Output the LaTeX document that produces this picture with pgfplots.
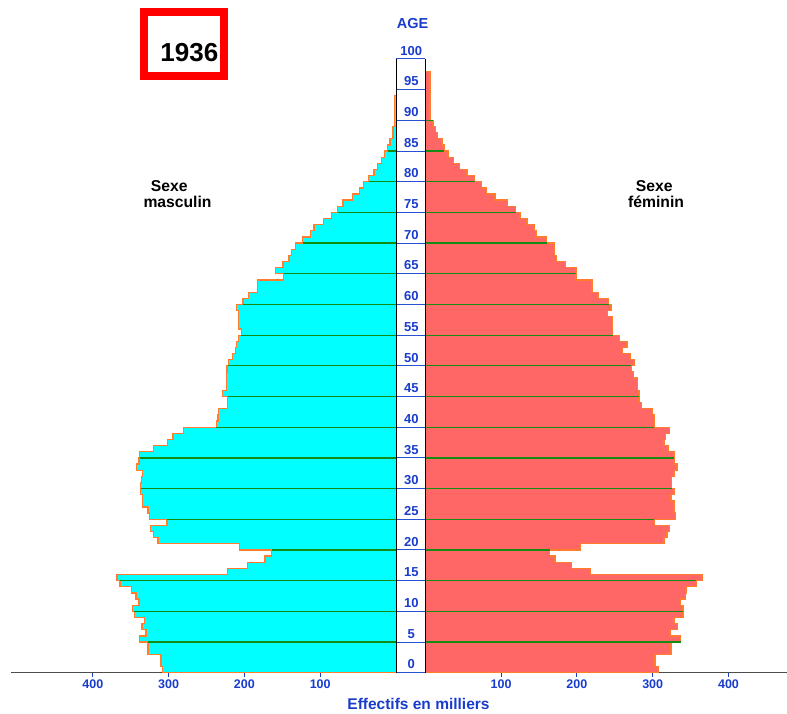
\documentclass[border=0pt]{standalone}
\usepackage{pgfplots}
\pgfplotsset{compat=1.18}
\usepackage{pgfplotstable}
\usepackage{fontspec}
\setmainfont{Liberation Sans}
\definecolor{agecol}{RGB}{25,60,205}
\definecolor{malecol}{RGB}{0,255,255}
\definecolor{femcol}{RGB}{255,102,102}
\definecolor{edgecol}{RGB}{255,125,45}
\definecolor{gridgreen}{RGB}{20,140,20}
\definecolor{boxblue}{RGB}{40,80,210}

% male population (thousands) by age, with closing rows
\pgfplotstableread{
age val
0 0
0 308
1 310
2 310
3 327
4 327
5 338
6 330
7 335
8 332
9 345
10 348
11 339
12 343
13 349
14 364
15 368
16 222
17 196
18 173
19 164
20 206
21 314
22 320
23 324
24 302
25 325
26 327
27 334
28 334
29 337
30 337
31 336
32 334
33 342
34 339
35 338
36 320
37 301
38 294
39 280
40 237
41 235
42 234
43 222
44 222
45 229
46 224
47 224
48 224
49 223
50 221
51 216
52 212
53 210
54 208
55 204
56 208
57 208
58 208
59 210
60 202
61 195
62 183
63 183
64 148
65 159
66 149
67 141
68 138
69 133
70 123
71 113
72 108
73 96
74 85
75 77
76 70
77 57
78 48
79 43
80 36
81 29
82 24
83 19
84 15
85 11
86 8
87 4
88 4
89 2
90 2
91 2
92 2
93 2
94 0
}\maletab

% female population (thousands) by age, with closing rows
\pgfplotstableread{
age val
0 0
0 308
1 303
2 303
3 324
4 324
5 337
6 323
7 333
8 328
9 340
10 340
11 337
12 343
13 344
14 357
15 365
16 218
17 193
18 171
19 164
20 205
21 315
22 319
23 322
24 302
25 330
26 328
27 328
28 324
29 328
30 325
31 325
32 328
33 332
34 328
35 328
36 320
37 315
38 317
39 322
40 302
41 302
42 300
43 285
44 282
45 282
46 280
47 280
48 275
49 272
50 276
51 271
52 260
53 266
54 256
55 247
56 247
57 247
58 240
59 245
60 242
61 228
62 220
63 220
64 199
65 199
66 185
67 173
68 170
69 170
70 160
71 146
72 144
73 134
74 125
75 119
76 108
77 92
78 81
79 74
80 65
81 55
82 45
83 37
84 30
85 25
86 22
87 16
88 13
89 10
90 6
91 6
92 6
93 6
94 6
95 6
96 6
97 6
98 0
}\femtab

\begin{document}
\begin{tikzpicture}[x=1pt,y=1pt]
\useasboundingbox (0,0) rectangle (787,714);
\pgfplotsset{pyr/.style={
  scale only axis, height=613.7pt, ymin=0, ymax=100,
  axis x line*=bottom, axis y line=none,
  axis line style={-},
  x axis line style={black!70, line width=1.1pt},
  xtick={100,200,300,400}, tick align=outside, major tick length=4pt,
  tick style={agecol, line width=0.9pt},
  /pgf/number format/assume math mode=true,
  xticklabel style={font=\bfseries\fontsize{12.5}{12.5}\selectfont, text=agecol},
  clip=false}}

% male side
\begin{axis}[pyr, at={(10.7pt,41.3pt)}, anchor=south west,
  width=385.3pt, xmin=0, xmax=508.3, x dir=reverse]
  \addplot[const plot mark right, fill=malecol, draw=edgecol, line width=1.3pt]
    table[x=val, y=age] {\maletab};
  \addplot[gridgreen, line width=1.3pt, unbounded coords=jump] coordinates {
    (0,5) (327,5) (nan,nan) (0,10) (345,10) (nan,nan) (0,15) (364,15) (nan,nan)
    (0,20) (164,20) (nan,nan) (0,25) (302,25) (nan,nan) (0,30) (337,30) (nan,nan)
    (0,35) (338,35) (nan,nan) (0,40) (237,40) (nan,nan) (0,45) (222,45) (nan,nan)
    (0,50) (221,50) (nan,nan) (0,55) (204,55) (nan,nan) (0,60) (202,60) (nan,nan)
    (0,65) (148,65) (nan,nan) (0,70) (123,70) (nan,nan) (0,75) (77,75) (nan,nan)
    (0,80) (36,80) (nan,nan) (0,85) (11,85)};
\end{axis}

% female side
\begin{axis}[pyr, at={(425.3pt,41.3pt)}, anchor=south west,
  width=361.7pt, xmin=0, xmax=477.2]
  \addplot[const plot mark right, fill=femcol, draw=edgecol, line width=1.3pt]
    table[x=val, y=age] {\femtab};
  \addplot[gridgreen, line width=1.3pt, unbounded coords=jump] coordinates {
    (0,5) (337,5) (nan,nan) (0,10) (340,10) (nan,nan) (0,15) (357,15) (nan,nan)
    (0,20) (164,20) (nan,nan) (0,25) (302,25) (nan,nan) (0,30) (325,30) (nan,nan)
    (0,35) (328,35) (nan,nan) (0,40) (302,40) (nan,nan) (0,45) (282,45) (nan,nan)
    (0,50) (272,50) (nan,nan) (0,55) (247,55) (nan,nan) (0,60) (242,60) (nan,nan)
    (0,65) (199,65) (nan,nan) (0,70) (160,70) (nan,nan) (0,75) (119,75) (nan,nan)
    (0,80) (65,80) (nan,nan) (0,85) (25,85) (nan,nan) (0,90) (10,90)};
\end{axis}

% central age column
\fill[white] (396,41.3) rectangle (425.3,655);
\foreach \a in {0,5,...,100}
  \draw[boxblue, line width=1pt] (396,{41.3+6.137*\a}) -- (425.3,{41.3+6.137*\a});
\draw[black, line width=0.9pt] (396,41.3) -- (396,655);
\draw[black, line width=0.9pt] (425.3,41.3) -- (425.3,655);
\foreach \a in {0,5,...,100}
  \node[font=\bfseries\fontsize{13}{13}\selectfont, text=agecol, inner sep=0pt]
    at (411.3,{41.3+6.137*\a+8.3}) {\a};
\node[font=\bfseries\fontsize{14.5}{14.5}\selectfont, text=agecol] at (412.5,690) {AGE};

% year box
\draw[red, line width=8pt] (144,701.8) rectangle (223.6,637.8);
\node[font=\bfseries\fontsize{26}{26}\selectfont, inner sep=0pt] at (189.4,661.8) {1936};

% sex labels
\node[font=\bfseries\fontsize{15.7}{15.4}\selectfont, align=left, anchor=south west, inner sep=0pt]
  at (143.3,506.3) {\hspace*{7.4pt}Sexe\\masculin};
\node[font=\bfseries\fontsize{15.7}{15.4}\selectfont, align=left, anchor=south west, inner sep=0pt]
  at (628,506.3) {\hspace*{7.7pt}Sexe\\féminin};

% axis title
\node[font=\bfseries\fontsize{15.5}{15.5}\selectfont, text=agecol, anchor=base, inner sep=0pt] at (418.5,4) {Effectifs en milliers};
\end{tikzpicture}
\end{document}
